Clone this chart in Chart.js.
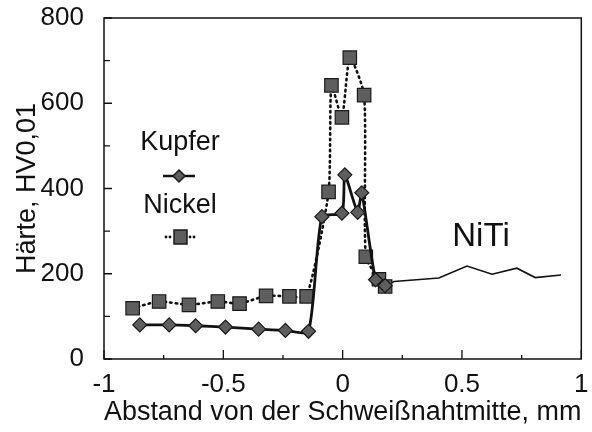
<!DOCTYPE html>
<html>
<head>
<meta charset="utf-8">
<script src="https://cdn.jsdelivr.net/npm/chart.js@4/dist/chart.umd.min.js"></script>
<style>
html,body{margin:0;padding:0;background:#fff;}
#wrap{width:592px;height:432px;}
</style>
</head>
<body>
<div id="wrap"><canvas id="c" width="592" height="432"></canvas></div>
<script>
// ---- data ----
const kupferX = [-0.850, -0.727, -0.616, -0.491, -0.352, -0.240, -0.143, -0.087, -0.003, 0.009, 0.063, 0.080, 0.138, 0.178];
const kupferY = [80, 80, 78, 75, 70, 67, 65, 334, 342, 432, 344, 390, 186, 172];
const nickelX = [-0.880, -0.769, -0.644, -0.523, -0.432, -0.321, -0.223, -0.151, -0.059, -0.047, -0.003, 0.030, 0.090, 0.097, 0.152, 0.178];
const nickelY = [119, 135, 127, 135, 130, 148, 147, 147, 392, 642, 567, 707, 619, 240, 187, 170];
const nitiX = [0.178, 0.215, 0.403, 0.521, 0.626, 0.730, 0.807, 0.915];
const nitiY = [172, 182, 190, 218, 199, 213, 191, 197];
const seriesNames = ['Kupfer', 'Nickel', 'NiTi'];
const xTickLabels = [-1, -0.5, 0, 0.5, 1];
const yTickLabels = [0, 200, 400, 600, 800];
const xTitle = 'Abstand von der Schweißnahtmitte, mm';
const yTitle = 'Härte, HV0,01';

const toPts = (xs, ys) => xs.map((x, i) => ({x: x, y: ys[i]}));
const FONT = '"Liberation Sans", Arial, sans-serif';
const markerFill = '#5e5e5e';
const markerEdge = '#1a1a1a';

const decoPlugin = {
  id: 'deco',
  beforeDatasetsDraw(chart) {
    const ctx = chart.ctx, a = chart.chartArea;
    const xs = chart.scales.x, ys = chart.scales.y;
    ctx.save();
    ctx.strokeStyle = '#111';
    ctx.lineWidth = 1.5;
    ctx.strokeRect(a.left, a.top, a.right - a.left, a.bottom - a.top);
    ctx.lineWidth = 1.3;
    ctx.beginPath();
    xs.ticks.forEach(t => {
      const px = xs.getPixelForValue(t.value);
      const major = xTickLabels.some(v => Math.abs(v - t.value) < 1e-9);
      const len = major ? 9 : 4;
      ctx.moveTo(px, a.bottom);
      ctx.lineTo(px, a.bottom - len);
    });
    ys.ticks.forEach(t => {
      const py = ys.getPixelForValue(t.value);
      const major = yTickLabels.some(v => Math.abs(v - t.value) < 1e-9);
      const len = major ? 8 : 6;
      ctx.moveTo(a.left, py);
      ctx.lineTo(a.left + len, py);
    });
    ctx.stroke();
    ctx.restore();
  },
  afterDraw(chart) {
    const ctx = chart.ctx;
    ctx.save();
    ctx.fillStyle = '#111';
    ctx.textAlign = 'center';
    ctx.textBaseline = 'middle';
    ctx.font = '27px ' + FONT;
    ctx.fillText(seriesNames[0], 180, 143);
    ctx.fillText(seriesNames[1], 180, 206);
    ctx.font = '33px ' + FONT;
    ctx.fillText(seriesNames[2], 481, 237);
    // legend samples
    ctx.strokeStyle = '#111';
    ctx.lineWidth = 2.5;
    ctx.beginPath();
    ctx.moveTo(163, 176); ctx.lineTo(195, 176);
    ctx.stroke();
    ctx.fillStyle = markerFill;
    ctx.strokeStyle = markerEdge;
    ctx.lineWidth = 1.5;
    ctx.beginPath();
    ctx.moveTo(179, 170); ctx.lineTo(185, 176); ctx.lineTo(179, 182); ctx.lineTo(173, 176); ctx.closePath();
    ctx.fill(); ctx.stroke();
    ctx.fillStyle = '#111';
    [166, 170, 190, 194].forEach(x => { ctx.beginPath(); ctx.arc(x, 237, 1.4, 0, Math.PI * 2); ctx.fill(); });
    ctx.fillStyle = markerFill;
    ctx.fillRect(174, 230, 13, 14);
    ctx.strokeRect(174, 230, 13, 14);
    ctx.restore();
  }
};

new Chart(document.getElementById('c'), {
  type: 'line',
  data: {
    datasets: [
      {
        label: seriesNames[2],
        data: toPts(nitiX, nitiY),
        borderColor: '#111',
        borderWidth: 1.6,
        pointRadius: 0,
        tension: 0,
        order: 3
      },
      {
        label: seriesNames[1],
        data: toPts(nickelX, nickelY),
        borderColor: '#111',
        borderWidth: 2.6,
        borderDash: [1.5, 4],
        borderCapStyle: 'round',
        pointStyle: 'rect',
        pointRadius: 9.5,
        pointBackgroundColor: markerFill,
        pointBorderColor: markerEdge,
        pointBorderWidth: 1.2,
        tension: 0.2,
        order: 2
      },
      {
        label: seriesNames[0],
        data: toPts(kupferX, kupferY),
        borderColor: '#111',
        borderWidth: 2.8,
        pointStyle: 'rectRot',
        pointRadius: 7,
        pointBackgroundColor: markerFill,
        pointBorderColor: markerEdge,
        pointBorderWidth: 1.2,
        tension: 0.2,
        order: 1
      }
    ]
  },
  options: {
    responsive: false,
    animation: false,
    devicePixelRatio: 1,
    layout: {padding: {top: 18, right: 10, left: 0, bottom: 0}},
    plugins: {legend: {display: false}, tooltip: {enabled: false}},
    scales: {
      x: {
        type: 'linear',
        min: -1, max: 1,
        afterFit: s => { s.height = 73; },
        afterBuildTicks: s => {
          const t = [];
          for (let i = 0; i <= 8; i++) t.push({value: -1 + i * 0.25});
          s.ticks = t;
        },
        grid: {display: false},
        border: {display: false},
        ticks: {
          padding: 2,
          color: '#111',
          maxRotation: 0,
          autoSkip: false,
          font: {family: FONT, size: 26},
          callback: v => {
            const hit = xTickLabels.find(l => Math.abs(l - v) < 1e-9);
            return hit === undefined ? '' : String(hit);
          }
        },
        title: {
          display: true,
          text: xTitle,
          color: '#111',
          font: {family: FONT, size: 27},
          padding: {top: 0, bottom: 3}
        }
      },
      y: {
        min: 0, max: 800,
        afterFit: s => { s.width = 104; },
        afterBuildTicks: s => {
          const t = [];
          for (let i = 0; i <= 8; i++) t.push({value: i * 100});
          s.ticks = t;
        },
        grid: {display: false},
        border: {display: false},
        ticks: {
          padding: 12,
          color: '#111',
          autoSkip: false,
          font: {family: FONT, size: 26, lineHeight: 0.4},
          callback: v => {
            const hit = yTickLabels.find(l => Math.abs(l - v) < 1e-9);
            return hit === undefined ? '' : String(hit);
          }
        },
        title: {
          display: true,
          text: yTitle,
          color: '#111',
          font: {family: FONT, size: 27},
          padding: {top: 11, bottom: 0}
        }
      }
    }
  },
  plugins: [decoPlugin]
});
</script>
</body>
</html>
